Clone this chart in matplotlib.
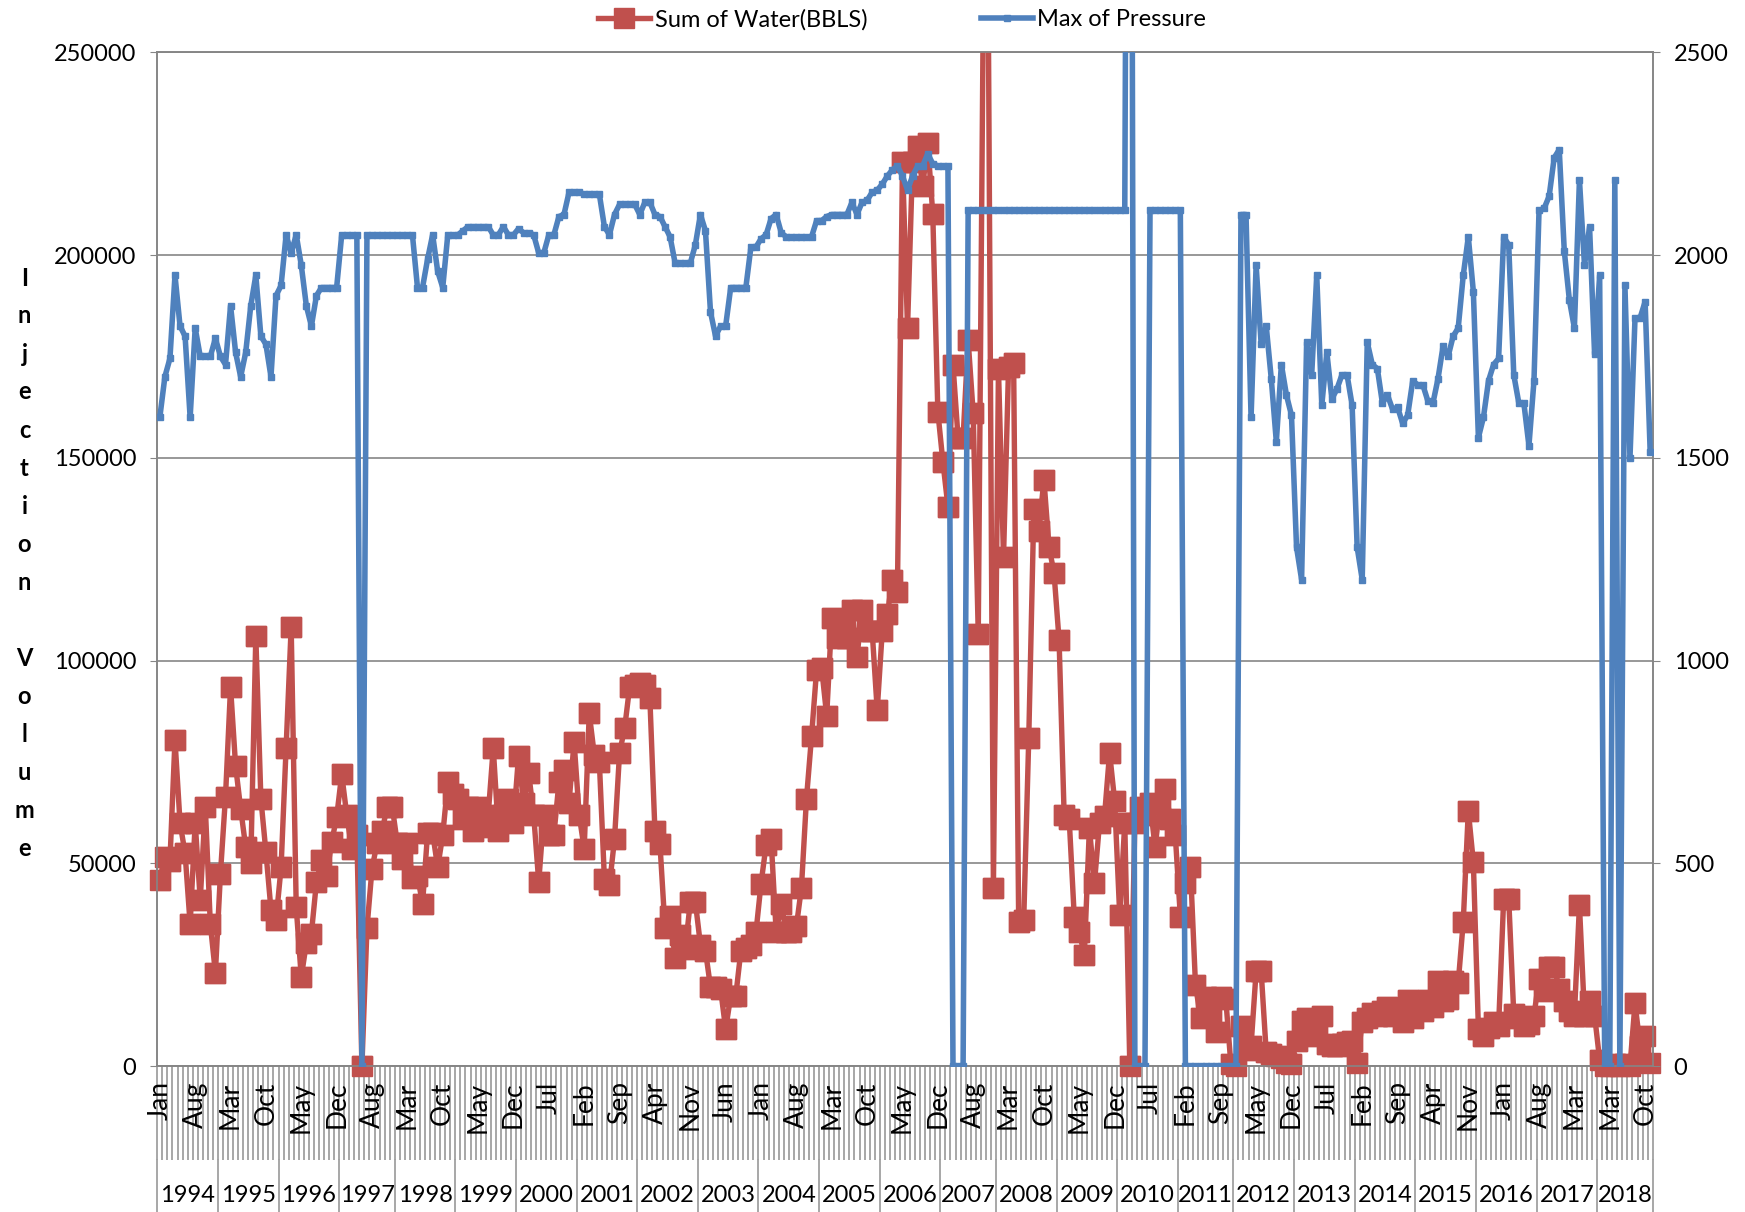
import matplotlib
matplotlib.use('Agg')
import matplotlib.pyplot as plt
import numpy as np
from matplotlib.transforms import blended_transform_factory
from matplotlib.lines import Line2D

plt.rcParams['font.family'] = ['Lato', 'DejaVu Sans']

# ---------------- data ----------------
MONTHS = ['Jan', 'Feb', 'Mar', 'Apr', 'May', 'Jun', 'Jul', 'Aug', 'Sep', 'Oct', 'Nov', 'Dec']
FISCAL = ['Aug', 'Sep', 'Oct', 'Nov', 'Dec', 'Jan', 'Feb', 'Mar', 'Apr', 'May', 'Jun', 'Jul']
years = list(range(1994, 2019))
missing_month = {1997: 'Jun', 2007: 'Jun', 2011: 'Nov', 2018: 'Dec'}
fiscal_order_years = [2016, 2017]

water = [
    46000, 51500, 50500, 80500, 60000, 52500, 35000, 60000, 41000, 64000, 35000, 23000,          # 1994
    47500, 66500, 93500, 74000, 63500, 54000, 50000, 106000, 66000, 52800, 38600, 36000,         # 1995
    49000, 78400, 108300, 39200, 21900, 30400, 32700, 45400, 50800, 47000, 55200, 61400,         # 1996
    72000, 62000, 53500, 57000, 0, 34000, 48700, 55000, 58000, 64000, 64000,                     # 1997
    55000, 51000, 55000, 46500, 47000, 40000, 57500, 57500, 49000, 57000, 70000, 67000,          # 1998
    66000, 61000, 64000, 58000, 64000, 59000, 62000, 78500, 58000, 62000, 66000, 60000,          # 1999
    76500, 65000, 72400, 62000, 45400, 62000, 57000, 57000, 70000, 73000, 65000, 80000,          # 2000
    62000, 53600, 87000, 76800, 75000, 46200, 44600, 56000, 77300, 83300, 93600, 94000,          # 2001
    94400, 94000, 90700, 58000, 54700, 34000, 37000, 26600, 32300, 28800, 40500, 40500,          # 2002
    30000, 28500, 19500, 19500, 19000, 9150, 17300, 17300, 28300, 29100, 30000, 33000,           # 2003
    45000, 54500, 56000, 33000, 40000, 33000, 33000, 34500, 44000, 66000, 81300, 97700,          # 2004
    98200, 86400, 110600, 105600, 107500, 105600, 112500, 101000, 112500, 107300, 107300, 87800, # 2005
    107300, 111400, 120000, 117000, 223000, 182000, 223000, 226800, 217000, 227600, 210100, 161400,  # 2006
    149000, 138000, 173000, 155000, 155000, 179000, 161000, 106500, 262000, 258000, 44000,       # 2007
    172000, 125500, 172500, 173500, 35600, 36000, 81000, 137300, 132000, 144600, 128100, 121600, # 2008
    105000, 62000, 61000, 36900, 33000, 27500, 58800, 45100, 60000, 61800, 77300, 65400,         # 2009
    37300, 60000, 0, 60000, 64000, 62000, 65000, 54000, 64700, 68300, 61000, 57000,              # 2010
    36900, 45100, 49000, 20000, 12000, 17000, 13000, 8500, 17000, 16500, 500,                    # 2011
    0, 10000, 4000, 5000, 23400, 23400, 3400, 3000, 2500, 2000, 800, 500,                        # 2012
    6200, 11100, 12000, 9000, 7500, 12400, 5400, 5000, 5000, 5500, 6000, 6200,                   # 2013
    800, 11000, 12000, 13000, 12500, 13500, 14700, 12500, 14000, 11000, 16300, 12000,            # 2014
    15500, 13500, 16300, 14500, 20900, 16000, 16500, 21000, 20500, 35600, 63000, 50300,          # 2015
    9200, 7500, 9500, 10800, 10000, 41300, 41300, 12800, 12000, 10000, 10500, 12500,             # 2016
    21500, 18500, 24500, 24500, 19000, 16000, 13500, 12500, 39700, 12500, 16000, 12500,          # 2017
    1500, 0, 0, 500, 0, 500, 0, 15500, 5000, 7500, 800,                                          # 2018
]

pressure = [
    1600, 1700, 1745, 1950, 1825, 1800, 1600, 1820, 1750, 1750, 1750, 1795,    # 1994
    1750, 1730, 1875, 1760, 1700, 1760, 1875, 1950, 1800, 1780, 1700, 1900,    # 1995
    1925, 2050, 2005, 2050, 1975, 1875, 1825, 1900, 1920, 1920, 1920, 1920,    # 1996
    2050, 2050, 2050, 2050, 0, 2050, 2050, 2050, 2050, 2050, 2050,             # 1997
    2050, 2050, 2050, 2050, 1920, 1920, 1990, 2050, 1960, 1920, 2050, 2050,    # 1998
    2050, 2060, 2070, 2070, 2070, 2070, 2070, 2050, 2050, 2070, 2050, 2050,    # 1999
    2065, 2055, 2055, 2050, 2005, 2005, 2050, 2050, 2095, 2100, 2155, 2155,    # 2000
    2155, 2150, 2150, 2150, 2150, 2070, 2050, 2100, 2125, 2125, 2125, 2125,    # 2001
    2100, 2130, 2130, 2100, 2095, 2070, 2045, 1980, 1980, 1980, 1980, 2025,    # 2002
    2100, 2060, 1860, 1800, 1825, 1825, 1920, 1920, 1920, 1920, 2020, 2020,    # 2003
    2040, 2050, 2090, 2100, 2055, 2045, 2045, 2045, 2045, 2045, 2045, 2085,    # 2004
    2085, 2095, 2100, 2100, 2100, 2100, 2130, 2100, 2130, 2135, 2155, 2160,    # 2005
    2175, 2195, 2210, 2220, 2195, 2160, 2195, 2220, 2220, 2250, 2225, 2220,    # 2006
    2220, 2220, 0, 0, 0, 2110, 2110, 2110, 2110, 2110, 2110,                   # 2007
    2110, 2110, 2110, 2110, 2110, 2110, 2110, 2110, 2110, 2110, 2110, 2110,    # 2008
    2110, 2110, 2110, 2110, 2110, 2110, 2110, 2110, 2110, 2110, 2110, 2110,    # 2009
    2110, 2110, 5000, 0, 0, 0, 2110, 2110, 2110, 2110, 2110, 2110,             # 2010
    2110, 0, 0, 0, 0, 0, 0, 0, 0, 0, 0,                                        # 2011
    0, 2100, 2100, 1600, 1975, 1780, 1825, 1695, 1540, 1730, 1655, 1605,       # 2012
    1280, 1200, 1785, 1705, 1950, 1630, 1760, 1645, 1670, 1705, 1705, 1630,    # 2013
    1280, 1200, 1785, 1730, 1720, 1635, 1655, 1620, 1625, 1585, 1605, 1690,    # 2014
    1680, 1680, 1640, 1635, 1695, 1775, 1750, 1800, 1820, 1950, 2045, 1910,    # 2015
    1550, 1600, 1690, 1730, 1745, 2045, 2025, 1705, 1635, 1635, 1530, 1690,    # 2016
    2110, 2115, 2145, 2240, 2260, 2010, 1890, 1820, 2185, 1975, 2070, 1755,    # 2017
    1950, 0, 0, 2185, 0, 1925, 1500, 1845, 1845, 1885, 1515,                   # 2018
]

series_names = ['Sum of Water(BBLS)', 'Max of Pressure']
y_label = 'Injection Volume'

# ---------------- categories ----------------
cats = []
for yr in years:
    order = FISCAL if yr in fiscal_order_years else MONTHS
    for m in order:
        if missing_month.get(yr) == m:
            continue
        cats.append((yr, m))
n = len(cats)
x = np.arange(n)

RED = '#C0504D'
BLUE = '#4F81BD'
GRID = '#868686'
TICK = '#a0a0a0'

fig = plt.figure(figsize=(17.45, 12.12), dpi=100)
L, R, T, B = 157.3, 1652.7, 52.3, 1066.2
ax = fig.add_axes([L / 1745, 1 - B / 1212, (R - L) / 1745, (B - T) / 1212])
ax2 = ax.twinx()

w = np.array(water, dtype=float)
p = np.array(pressure, dtype=float)

l_red, = ax.plot(x, w, color=RED, lw=3.9, marker='s', ms=15, mfc=RED, mec=RED, zorder=3,
                 label=series_names[0])
# markers at the bottom edge are not clipped (as in the original)
ax.plot(x, np.ma.masked_outside(w, 0, 250000), ls='none', marker='s', ms=15,
        mfc=RED, mec=RED, clip_on=False, zorder=3)
l_blue, = ax2.plot(x, p, color=BLUE, lw=4.0, marker='s', ms=4, mfc=BLUE, mec=BLUE,
                   zorder=3, label=series_names[1])

ax.set_xlim(-0.5, n - 0.5)
ax.set_ylim(0, 250000)
ax2.set_ylim(0, 2500)
ax.set_yticks(np.arange(0, 250001, 50000))
ax.set_yticklabels([f'{int(v)}' for v in np.arange(0, 250001, 50000)])
ax2.set_yticks(np.arange(0, 2501, 500))
ax2.set_yticklabels([f'{int(v)}' for v in np.arange(0, 2501, 500)])

ax.set_axisbelow(True)
ax.yaxis.grid(True, color=GRID, lw=1.2)
for a in (ax, ax2):
    for s in a.spines.values():
        s.set_color(GRID)
        s.set_linewidth(1.2)

ax.tick_params(axis='y', length=5, color=GRID, pad=10, labelsize=17)
ax2.tick_params(axis='y', length=5, color=GRID, pad=10, labelsize=17)

# month tick labels every 7th category
tick_idx = x[::7]
ax.set_xticks(tick_idx)
ax.set_xticklabels([cats[i][1] for i in tick_idx], rotation=90, fontsize=19)
ax.tick_params(axis='x', which='major', length=0, pad=11)

# category tick lines and year level of the category axis
trans = blended_transform_factory(ax.transData, ax.transAxes)
y_top = (B - 1160) / (B - T)
y_bot = (B - 1212) / (B - T)
y_txt = (B - 1195) / (B - T)
ax.vlines(np.arange(n + 1) - 0.5, y_top, 0, transform=trans, colors=TICK, lw=1.3,
          clip_on=False, zorder=0.2)
starts = [i for i in range(n) if i == 0 or cats[i][0] != cats[i - 1][0]]
bounds = starts + [n]
for j, s in enumerate(starts):
    e = bounds[j + 1]
    ax.text((s + e - 1) / 2, y_txt, str(cats[s][0]), transform=trans, ha='center',
            va='center', fontsize=17, clip_on=False)
for b in bounds:
    ax.add_line(Line2D([b - 0.5, b - 0.5], [y_top, y_bot], transform=trans,
                       color=TICK, lw=1.3, clip_on=False))

# vertical stacked y label
ytop_px, step_px = 278, 38
for i, ch in enumerate(y_label):
    fig.text(24.5 / 1745, 1 - (ytop_px + i * step_px) / 1212, ch, ha='center', va='center',
             fontsize=17, fontweight='bold')

fig.legend(handles=[l_red, l_blue], labels=series_names, loc='center',
           bbox_to_anchor=(0.517, 0.984), ncol=2, frameon=False, fontsize=17,
           handlelength=2.2, columnspacing=4.8, handletextpad=0.2)

fig.savefig('out.png', dpi=100, facecolor='white')
